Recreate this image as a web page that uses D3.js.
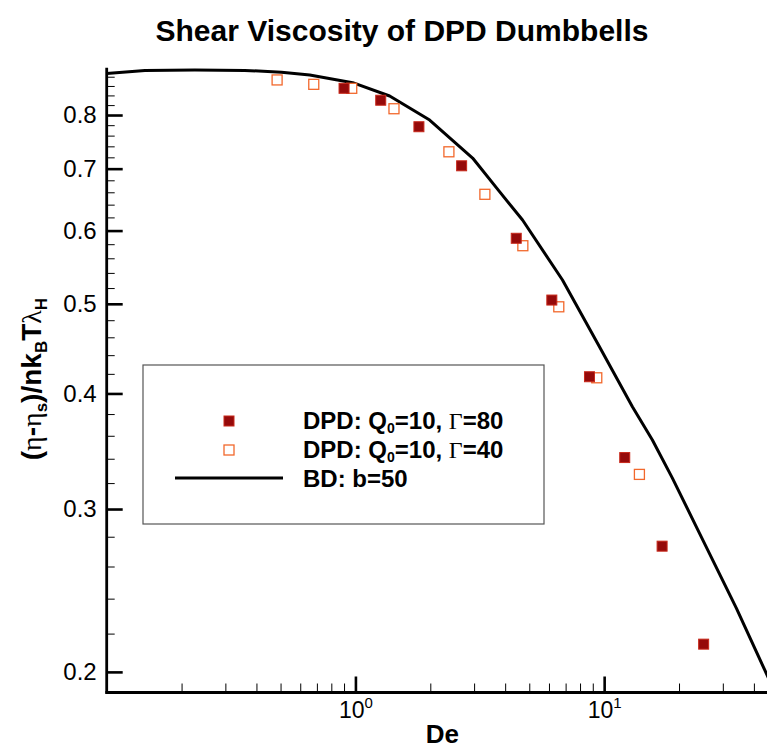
<!DOCTYPE html>
<html>
<head>
<meta charset="utf-8">
<script src="https://cdn.jsdelivr.net/npm/d3@7"></script>
<style>
  html, body { margin: 0; padding: 0; background: #fff; }
  svg { display: block; }
  text { font-family: "Liberation Sans", Arial, Helvetica, sans-serif; }
</style>
</head>
<body>
<svg id="chart" width="767" height="751"></svg>
<script>
// ---- data ----
const title = "Shear Viscosity of DPD Dumbbells";
const xTitle = "De";

// DPD: Q0=10, Γ=80 (filled squares)
const g80De  = [0.900, 1.264, 1.800, 2.673, 4.432, 6.161, 8.73, 12.10, 17.10, 25.12];
const g80Eta = [0.855, 0.830, 0.777, 0.705, 0.5886, 0.5047, 0.417, 0.341, 0.2735, 0.2143];

// DPD: Q0=10, Γ=40 (open squares)
const g40De  = [0.4843, 0.680, 0.9664, 1.429, 2.376, 3.315, 4.711, 6.571, 9.34, 13.86];
const g40Eta = [0.873, 0.8635, 0.855, 0.8126, 0.730, 0.6567, 0.5778, 0.4963, 0.4159, 0.327];

// BD: b=50 (solid line)
const bdDe  = [0.1, 0.1425, 0.2262, 0.359, 0.5044, 0.6553, 0.975, 1.373, 1.988, 2.959, 3.797, 4.698, 6.80, 9.575, 12.99, 15.63, 18.81, 23.48, 34.0, 44.86, 48.0];
const bdEta = [0.887, 0.894, 0.895, 0.894, 0.8898, 0.8838, 0.867, 0.8388, 0.790, 0.7188, 0.661, 0.616, 0.5305, 0.4493, 0.3869, 0.3562, 0.324, 0.287, 0.2344, 0.1993, 0.1916];

const yMajor = [0.2, 0.3, 0.4, 0.5, 0.6, 0.7, 0.8];
const yMinor = [0.22, 0.24, 0.26, 0.28, 0.32, 0.34, 0.36, 0.38, 0.42, 0.44, 0.46, 0.48,
                0.52, 0.54, 0.56, 0.58, 0.62, 0.64, 0.66, 0.68, 0.72, 0.74, 0.76, 0.78,
                0.82, 0.84, 0.86, 0.88];
const xMajor = [1, 10];
const xMinor = [0.2, 0.3, 0.4, 0.5, 0.6, 0.7, 0.8, 0.9, 2, 3, 4, 5, 6, 7, 8, 9, 20, 30, 40];
const xMajorExp = ["0", "1"];

// ---- layout ----
const svg = d3.select("#chart");
const X0 = 106.7, X1 = 778, Y0 = 692.5, Y1 = 67.7;
const x = d3.scaleLog().domain([0.1, 50]).range([X0, X1]);
const y = d3.scaleLog().domain([0.19, 0.9]).range([Y0, Y1]);

svg.append("rect").attr("width", 767).attr("height", 751).attr("fill", "#fff");

// title
svg.append("text")
  .attr("x", 402).attr("y", 41)
  .attr("text-anchor", "middle")
  .attr("font-size", 30).attr("font-weight", "bold")
  .attr("fill", "#000")
  .text(title);

// y axis ticks (inside, to the right)
const yMin = svg.append("g").attr("transform", `translate(${X0},0)`)
  .call(d3.axisRight(y).tickValues(yMinor).tickSize(8).tickSizeOuter(0).tickFormat(""));
yMin.select(".domain").remove();
yMin.selectAll("line").attr("stroke", "#000").attr("stroke-width", 1);

const yMaj = svg.append("g").attr("transform", `translate(${X0},0)`)
  .call(d3.axisRight(y).tickValues(yMajor).tickSize(16).tickSizeOuter(0).tickFormat(""));
yMaj.select(".domain").remove();
yMaj.selectAll("line").attr("stroke", "#000").attr("stroke-width", 2.6);

const yLab = svg.append("g").attr("transform", `translate(${X0},0)`)
  .call(d3.axisLeft(y).tickValues(yMajor).tickSize(0).tickPadding(10).tickFormat(d3.format(".1f")));
yLab.select(".domain").remove();
yLab.selectAll("text").attr("font-size", 24).attr("fill", "#000")
  .attr("font-family", "Liberation Sans, Arial, sans-serif");

// x axis ticks (inside, upward)
const xMin = svg.append("g").attr("transform", `translate(0,${Y0})`)
  .call(d3.axisTop(x).tickValues(xMinor).tickSize(9).tickSizeOuter(0).tickFormat(""));
xMin.select(".domain").remove();
xMin.selectAll("line").attr("stroke", "#000").attr("stroke-width", 1);

const xMaj = svg.append("g").attr("transform", `translate(0,${Y0})`)
  .call(d3.axisTop(x).tickValues(xMajor).tickSize(16).tickSizeOuter(0).tickFormat(""));
xMaj.select(".domain").remove();
xMaj.selectAll("line").attr("stroke", "#000").attr("stroke-width", 2.6);

const xLab = svg.append("g").attr("transform", `translate(0,${Y0})`)
  .call(d3.axisBottom(x).tickValues(xMajor).tickSize(0).tickPadding(0).tickFormat(""));
xLab.select(".domain").remove();
xLab.selectAll(".tick").each(function(d, i) {
  const t = d3.select(this).append("text")
    .attr("y", 25).attr("text-anchor", "middle")
    .attr("font-size", 23).attr("fill", "#000")
    .attr("font-family", "Liberation Sans, Arial, sans-serif");
  t.append("tspan").text("10");
  t.append("tspan").attr("font-size", 15).attr("dy", -10).text(xMajorExp[i]);
});

// axis lines
svg.append("line").attr("x1", X0).attr("x2", X0).attr("y1", Y1).attr("y2", Y0 + 1.3)
  .attr("stroke", "#000").attr("stroke-width", 2.8);
svg.append("line").attr("x1", X0 - 1.3).attr("x2", X1).attr("y1", Y0).attr("y2", Y0)
  .attr("stroke", "#000").attr("stroke-width", 2.8);

// x title
svg.append("text")
  .attr("x", (X0 + X1) / 2).attr("y", 743)
  .attr("text-anchor", "middle")
  .attr("font-size", 26).attr("font-weight", "bold").attr("fill", "#000")
  .text(xTitle);

// y title: (η-ηs)/nkB T λH
const yt = svg.append("text")
  .attr("transform", `translate(41,${(Y0 + Y1) / 2 - 1}) rotate(-90)`)
  .attr("text-anchor", "middle")
  .attr("font-size", 28).attr("font-weight", "bold").attr("fill", "#000");
yt.append("tspan").text("(");
yt.append("tspan").attr("font-family", "Liberation Serif, Times New Roman, serif").attr("font-weight", "normal").text("η");
yt.append("tspan").text("-");
yt.append("tspan").attr("font-family", "Liberation Serif, Times New Roman, serif").attr("font-weight", "normal").text("η");
yt.append("tspan").attr("font-size", 17).attr("dy", 6).text("s");
yt.append("tspan").attr("dy", -6).text(")/nk");
yt.append("tspan").attr("font-size", 17).attr("dy", 6).text("B");
yt.append("tspan").attr("dy", -6).text("T");
yt.append("tspan").attr("font-family", "Liberation Serif, Times New Roman, serif").attr("font-weight", "normal").text("λ");
yt.append("tspan").attr("font-size", 17).attr("dy", 6).text("H");

// ---- data marks ----
const line = d3.line().x(d => x(d[0])).y(d => y(d[1]));
const bd = bdDe.map((d, i) => [d, bdEta[i]]);
svg.append("path").datum(bd)
  .attr("d", line)
  .attr("fill", "none").attr("stroke", "#000").attr("stroke-width", 3)
  .attr("stroke-linejoin", "round");

const S = 10;
const open = g40De.map((d, i) => [d, g40Eta[i]]);
svg.append("g").selectAll("rect").data(open).join("rect")
  .attr("x", d => x(d[0]) - S / 2).attr("y", d => y(d[1]) - S / 2)
  .attr("width", S).attr("height", S)
  .attr("fill", "#fff").attr("stroke", "#f2682c").attr("stroke-width", 1.3);

const filled = g80De.map((d, i) => [d, g80Eta[i]]);
svg.append("g").selectAll("rect").data(filled).join("rect")
  .attr("x", d => x(d[0]) - S / 2).attr("y", d => y(d[1]) - S / 2)
  .attr("width", S).attr("height", S)
  .attr("fill", "#950a0a").attr("stroke", "#c8281a").attr("stroke-width", 1);

// ---- legend ----
const lg = svg.append("g");
lg.append("rect").attr("x", 143).attr("y", 365).attr("width", 401).attr("height", 159)
  .attr("fill", "#fff").attr("stroke", "#555").attr("stroke-width", 1.2);
lg.append("rect").attr("x", 224).attr("y", 416).attr("width", S).attr("height", S)
  .attr("fill", "#950a0a").attr("stroke", "#c8281a").attr("stroke-width", 1);
lg.append("rect").attr("x", 224).attr("y", 445).attr("width", S).attr("height", S)
  .attr("fill", "#fff").attr("stroke", "#f2682c").attr("stroke-width", 1.3);
lg.append("line").attr("x1", 175).attr("x2", 283).attr("y1", 478).attr("y2", 478)
  .attr("stroke", "#000").attr("stroke-width", 3);

const legendRows = [["DPD: Q", "0", "=10, ", "Γ", "=80"], ["DPD: Q", "0", "=10, ", "Γ", "=40"]];
const legendY = [429, 458];
legendRows.forEach((r, i) => {
  const t = lg.append("text").attr("x", 303).attr("y", legendY[i])
    .attr("font-size", 24).attr("font-weight", "bold").attr("fill", "#000");
  t.append("tspan").text(r[0]);
  t.append("tspan").attr("font-size", 14).attr("dy", 4).text(r[1]);
  t.append("tspan").attr("dy", -4).text(r[2]);
  t.append("tspan").attr("font-family", "Liberation Serif, Times New Roman, serif").attr("font-weight", "normal").text(r[3]);
  t.append("tspan").text(r[4]);
});
lg.append("text").attr("x", 303).attr("y", 487)
  .attr("font-size", 24).attr("font-weight", "bold").attr("fill", "#000")
  .text("BD: b=50");
</script>
</body>
</html>
